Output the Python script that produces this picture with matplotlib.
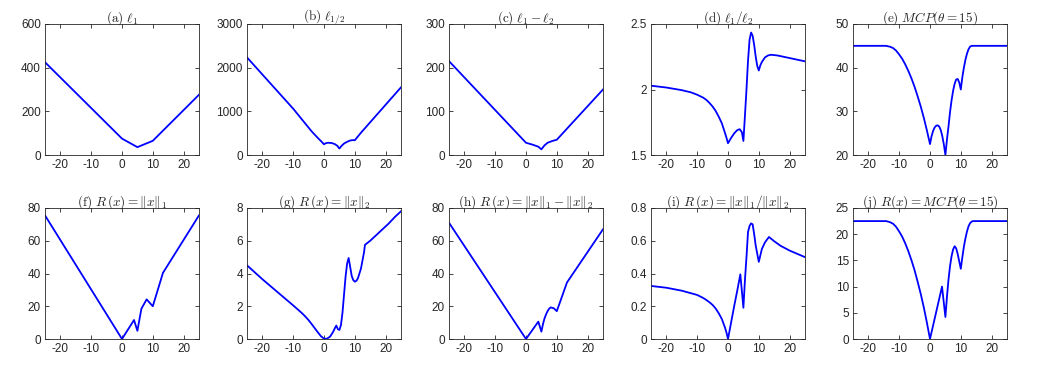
import matplotlib
matplotlib.use("Agg")
import matplotlib.pyplot as plt
from matplotlib.ticker import FuncFormatter

# curves, (x, y) samples per panel
l1_x = [-25, 0, 5, 10, 25]
l1_y = [425, 75, 36, 65, 276]

lhalf_x = [-25, -10, -4, -2, -1, 0, 0.5, 1, 1.5, 2.5, 3.5, 4.3, 5,
           5.7, 6.5, 7.5, 8.5, 9.5, 10, 12, 25]
lhalf_y = [2235, 1060, 540, 390, 320, 245, 268, 277, 280, 274, 250, 212, 148,
           210, 262, 302, 332, 342, 337, 510, 1550]

l1ml2_x = [-25, 0, 2, 4, 5, 6, 7, 8.5, 10, 25]
l1ml2_y = [215, 28, 24, 19, 13, 22, 28, 32, 35, 150]

l1dl2_x = [-25, -20, -15, -12, -10, -8, -7, -6, -5, -4, -3, -2, -1, -0.5, 0,
           1, 2, 3, 3.8, 4.5, 5,
           5.5, 6, 6.5, 7, 7.5, 8, 8.5, 9, 9.5, 10, 10.5, 11, 12, 13, 14,
           16, 18, 20, 22, 25]
l1dl2_y = [2.029, 2.015, 1.995, 1.978, 1.96, 1.937, 1.92, 1.897, 1.87,
           1.836, 1.792, 1.742, 1.67, 1.632, 1.59,
           1.63, 1.665, 1.69, 1.697, 1.675, 1.607,
           1.80, 2.00, 2.22, 2.38, 2.435, 2.41, 2.34, 2.25, 2.18, 2.145,
           2.185, 2.21, 2.245, 2.26, 2.265, 2.26, 2.25, 2.24, 2.23, 2.215]

mcp_x = [-25, -14.3, -13, -12, -11, -10, -9, -8, -7, -6, -5, -4, -3, -2, -1,
         0, 0.5, 1, 1.5, 2, 2.5, 3, 3.5, 4, 4.5, 5,
         5.5, 6, 6.5, 7, 7.5, 8, 8.5, 9, 9.5, 10,
         10.5, 11, 11.5, 12, 12.5, 13, 13.5, 14, 25]
mcp_y = [45, 45, 44.8, 44.5, 43.9, 43, 42, 40.7, 39.2, 37.5, 35.6, 33.4,
         31.1, 28.5, 25.6, 22.5, 24.3, 25.5, 26.3, 26.7, 26.8, 26.5, 25.7,
         24.3, 22.4, 20, 23.5, 26.5, 29.8, 32.5, 34.7, 36.3, 37.3, 37.4,
         36.6, 35, 37.8, 40, 41.8, 43.2, 44.2, 44.8, 45, 45, 45]

rl1_x = [-25, 0, 3.9, 5, 6.3, 8, 10, 13.3, 25]
rl1_y = [75.5, 0, 11.6, 5, 18.5, 24.2, 20, 40.4, 75.5]

rl2_x = [-25, -20, -15, -10, -8, -7, -6, -5, -4, -3, -2, -1, 0, 1, 2, 3,
         3.5, 4, 4.5, 5, 5.5, 6, 6.5, 7, 7.5, 8, 8.5, 9, 9.5, 10, 10.5, 11,
         12, 13, 13.3, 15, 17, 19, 21, 23, 25]
rl2_y = [4.5, 3.65, 2.85, 2.05, 1.72, 1.55, 1.36, 1.15, 0.91, 0.66, 0.41,
         0.17, 0.02, 0.02, 0.15, 0.45, 0.65, 0.82, 0.6, 0.55, 0.85, 1.6,
         2.7, 3.8, 4.6, 4.95, 4.4, 3.85, 3.6, 3.5, 3.55, 3.7, 4.3, 5.3,
         5.75, 6.0, 6.35, 6.7, 7.05, 7.45, 7.8]

rl1ml2_x = [-25, 0, 4, 5, 5.5, 6, 6.5, 7, 7.5, 8, 9, 10, 13.3, 25]
rl1ml2_y = [71, 0, 10.6, 4.5, 9, 12.5, 15, 17, 18.5, 19.3, 18.8, 17, 34.5, 67]

rl1dl2_x = [-25, -20, -15, -10, -8, -7, -6, -5, -4, -3, -2, -1, -0.5, 0,
            1, 2, 3, 4, 5,
            5.5, 6, 6.5, 7, 7.5, 8, 8.5, 9, 9.5, 10, 11, 12, 13.3, 15, 17,
            20, 25]
rl1dl2_y = [0.324, 0.313, 0.295, 0.269, 0.25, 0.238, 0.224, 0.208, 0.186,
            0.157, 0.122, 0.071, 0.04, 0,
            0.1, 0.2, 0.295, 0.395, 0.191,
            0.36, 0.5, 0.654, 0.69, 0.706,
            0.70, 0.64, 0.57, 0.52, 0.471, 0.55, 0.59, 0.623, 0.597, 0.57,
            0.54, 0.50]

rmcp_x = [-25, -14.2, -13, -12, -11, -10, -9, -8, -7, -6, -5, -4, -3, -2, -1,
          0, 3.9, 5, 5.5, 6, 6.5, 7, 7.5, 8, 8.5, 9, 9.5, 10,
          10.5, 11, 11.5, 12, 12.5, 13, 13.5, 14, 25]
rmcp_y = [22.5, 22.5, 22.3, 22, 21.4, 20.5, 19.5, 18.2, 16.7, 15, 13.1, 10.9,
          8.6, 6, 3.1, 0, 10, 4.2, 8, 11.3, 13.9, 15.8, 17.1, 17.7, 17.3,
          16.2, 14.8, 13.4, 15.6, 17.6, 19.2, 20.5, 21.5, 22.1, 22.4, 22.5,
          22.5]

titles = [r"$\mathrm{(a)}\ \ell_1$",
          r"$\mathrm{(b)}\ \ell_{1/2}$",
          r"$\mathrm{(c)}\ \ell_1-\ell_2$",
          r"$\mathrm{(d)}\ \ell_1/\ell_2$",
          r"$\mathrm{(e)}\ MCP(\theta=15)$",
          r"$\mathrm{(f)}\ R\,(x)=\|x\|_1$",
          r"$\mathrm{(g)}\ R\,(x)=\|x\|_2$",
          r"$\mathrm{(h)}\ R\,(x)=\|x\|_1-\|x\|_2$",
          r"$\mathrm{(i)}\ R\,(x)=\|x\|_1/\|x\|_2$",
          r"$\mathrm{(j)}\ R(x)=MCP(\theta=15)$"]

curves = [(l1_x, l1_y), (lhalf_x, lhalf_y), (l1ml2_x, l1ml2_y),
          (l1dl2_x, l1dl2_y), (mcp_x, mcp_y),
          (rl1_x, rl1_y), (rl2_x, rl2_y), (rl1ml2_x, rl1ml2_y),
          (rl1dl2_x, rl1dl2_y), (rmcp_x, rmcp_y)]

yticks = [[0, 200, 400, 600], [0, 1000, 2000, 3000], [0, 100, 200, 300],
          [1.5, 2, 2.5], [20, 30, 40, 50],
          [0, 20, 40, 60, 80], [0, 2, 4, 6, 8], [0, 20, 40, 60, 80],
          [0, 0.2, 0.4, 0.6, 0.8], [0, 5, 10, 15, 20, 25]]
xticks = [-20, -10, 0, 10, 20]

plt.rcParams['mathtext.fontset'] = 'cm'
plt.rcParams['axes.unicode_minus'] = False
plt.rcParams['font.family'] = ['Liberation Sans', 'DejaVu Sans']

W, H = 1038, 372
fig = plt.figure(figsize=(W / 100, H / 100), dpi=100)

dark = '#262626'
lefts = [45, 247, 449, 651, 853]
tops = [24, 208]
aw, ah = 154, 131

for k in range(10):
    row, col = divmod(k, 5)
    l = lefts[col] / W
    b = 1 - (tops[row] + ah) / H
    ax = fig.add_axes([l, b, aw / W, ah / H])
    x, y = curves[k]
    ax.plot(x, y, color='blue', lw=1.3)
    ax.set_xlim(-25, 25)
    ax.set_ylim(yticks[k][0], yticks[k][-1])
    ax.set_xticks(xticks)
    ax.set_yticks(yticks[k])
    ax.yaxis.set_major_formatter(FuncFormatter(lambda v, p: '%g' % v))
    ax.tick_params(direction='in', top=True, right=True, length=3,
                   width=0.6, labelsize=8.5, colors=dark, pad=3)
    for s in ax.spines.values():
        s.set_color(dark)
        s.set_linewidth(0.6)
    ax.set_title(titles[k], fontsize=9.5, pad=2, color=dark)

fig.savefig("out.png", dpi=100)
